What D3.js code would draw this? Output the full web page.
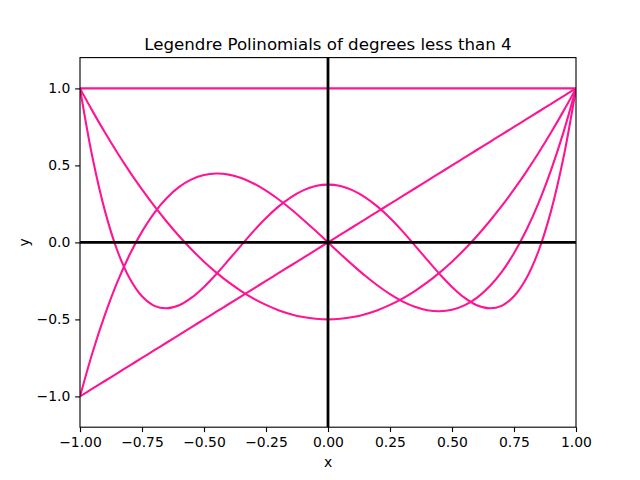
<!DOCTYPE html>
<html><head><meta charset="utf-8">
<script src="https://cdn.jsdelivr.net/npm/d3@7"></script>
<style>body{margin:0;background:#fff}svg{display:block}text{font-family:"DejaVu Sans",sans-serif}</style>
</head><body><svg id="c" width="640" height="480"></svg>
<script>
const xs = [-1,-0.95,-0.9,-0.85,-0.8,-0.75,-0.7,-0.65,-0.6,-0.55,-0.5,-0.45,-0.4,-0.35,-0.3,-0.25,-0.2,-0.15,-0.1,-0.05,0,
            0.05,0.1,0.15,0.2,0.25,0.3,0.35,0.4,0.45,0.5,0.55,0.6,0.65,0.7,0.75,0.8,0.85,0.9,0.95,1];
const p0 = [1,1,1,1,1,1,1,1,1,1,1,1,1,1,1,1,1,1,1,1,1,1,1,1,1,1,1,1,1,1,1,1,1,1,1,1,1,1,1,1,1];
const p1 = [-1,-0.95,-0.9,-0.85,-0.8,-0.75,-0.7,-0.65,-0.6,-0.55,-0.5,-0.45,-0.4,-0.35,-0.3,-0.25,-0.2,-0.15,-0.1,-0.05,0,
            0.05,0.1,0.15,0.2,0.25,0.3,0.35,0.4,0.45,0.5,0.55,0.6,0.65,0.7,0.75,0.8,0.85,0.9,0.95,1];
const p2 = [1,0.854,0.715,0.584,0.46,0.344,0.235,0.134,0.04,-0.046,-0.125,-0.196,-0.26,-0.316,-0.365,-0.406,-0.44,-0.466,-0.485,-0.496,-0.5,
            -0.496,-0.485,-0.466,-0.44,-0.406,-0.365,-0.316,-0.26,-0.196,-0.125,-0.046,0.04,0.134,0.235,0.344,0.46,0.584,0.715,0.854,1];
const p3 = [-1,-0.718,-0.4725,-0.260,-0.08,0.070,0.1925,0.288,0.36,0.409,0.4375,0.447,0.44,0.418,0.3825,0.336,0.28,0.217,0.1475,0.075,0,
            -0.075,-0.1475,-0.217,-0.28,-0.336,-0.3825,-0.418,-0.44,-0.447,-0.4375,-0.409,-0.36,-0.288,-0.1925,-0.070,0.08,0.260,0.4725,0.718,1];
const p4 = [1,0.554,0.208,-0.051,-0.233,-0.350,-0.412,-0.428,-0.408,-0.359,-0.289,-0.205,-0.113,-0.019,0.073,0.158,0.232,0.293,0.338,0.366,0.375,
            0.366,0.338,0.293,0.232,0.158,0.073,-0.019,-0.113,-0.205,-0.289,-0.359,-0.408,-0.428,-0.412,-0.350,-0.233,-0.051,0.208,0.554,1];
const series = [p0,p1,p2,p3,p4];
const xTicks = [-1,-0.75,-0.5,-0.25,0,0.25,0.5,0.75,1];
const yTicks = [-1,-0.5,0,0.5,1];
const title = "Legendre Polinomials of degrees less than 4";

const svg = d3.select("#c");
const L=80,R=576,T=57.6,B=427.2;
const x = d3.scaleLinear().domain([-1,1]).range([L,R]);
const y = d3.scaleLinear().domain([-1.2,1.2]).range([B,T]);
const minus = s => s.replace("-","\u2212");

const clip = svg.append("clipPath").attr("id","cl").append("rect")
  .attr("x",L).attr("y",T).attr("width",R-L).attr("height",B-T);

const line = d3.line().x((d,i)=>x(xs[i])).y(d=>y(d)).curve(d3.curveCatmullRom);
const g = svg.append("g").attr("clip-path","url(#cl)");
series.forEach(s=>{
  g.append("path").datum(s).attr("d",line).attr("fill","none")
   .attr("stroke","#ff1493").attr("stroke-width",2.08);
});
g.append("line").attr("x1",L).attr("x2",R).attr("y1",y(0)).attr("y2",y(0))
  .attr("stroke","#000").attr("stroke-width",2.78);
g.append("line").attr("x1",x(0)).attr("x2",x(0)).attr("y1",T).attr("y2",B)
  .attr("stroke","#000").attr("stroke-width",2.78);

const xa = svg.append("g").attr("transform",`translate(0,${B})`)
  .call(d3.axisBottom(x).tickValues(xTicks).tickSize(4.86).tickPadding(4.9).tickFormat(d=>minus(d3.format(".2f")(d))));
const ya = svg.append("g").attr("transform",`translate(${L},0)`)
  .call(d3.axisLeft(y).tickValues(yTicks).tickSize(4.86).tickPadding(4.9).tickFormat(d=>minus(d3.format(".1f")(d))));
[xa,ya].forEach(a=>{
  a.select(".domain").remove();
  a.selectAll("line").attr("stroke","#000").attr("stroke-width",1.11);
  a.selectAll("text").attr("font-size",13.9).attr("fill","#000").attr("font-family","DejaVu Sans");
});
svg.append("rect").attr("x",L).attr("y",T).attr("width",R-L).attr("height",B-T)
  .attr("fill","none").attr("stroke","#000").attr("stroke-width",1.11);

svg.append("text").attr("x",(L+R)/2).attr("y",T-7.5).attr("text-anchor","middle")
  .attr("font-size",16.67).text(title);
svg.append("text").attr("x",(L+R)/2).attr("y",467).attr("text-anchor","middle")
  .attr("font-size",13.9).text("x");
svg.append("text").attr("transform",`translate(29,${(T+B)/2}) rotate(-90)`).attr("text-anchor","middle")
  .attr("font-size",13.9).text("y");
</script></body></html>
